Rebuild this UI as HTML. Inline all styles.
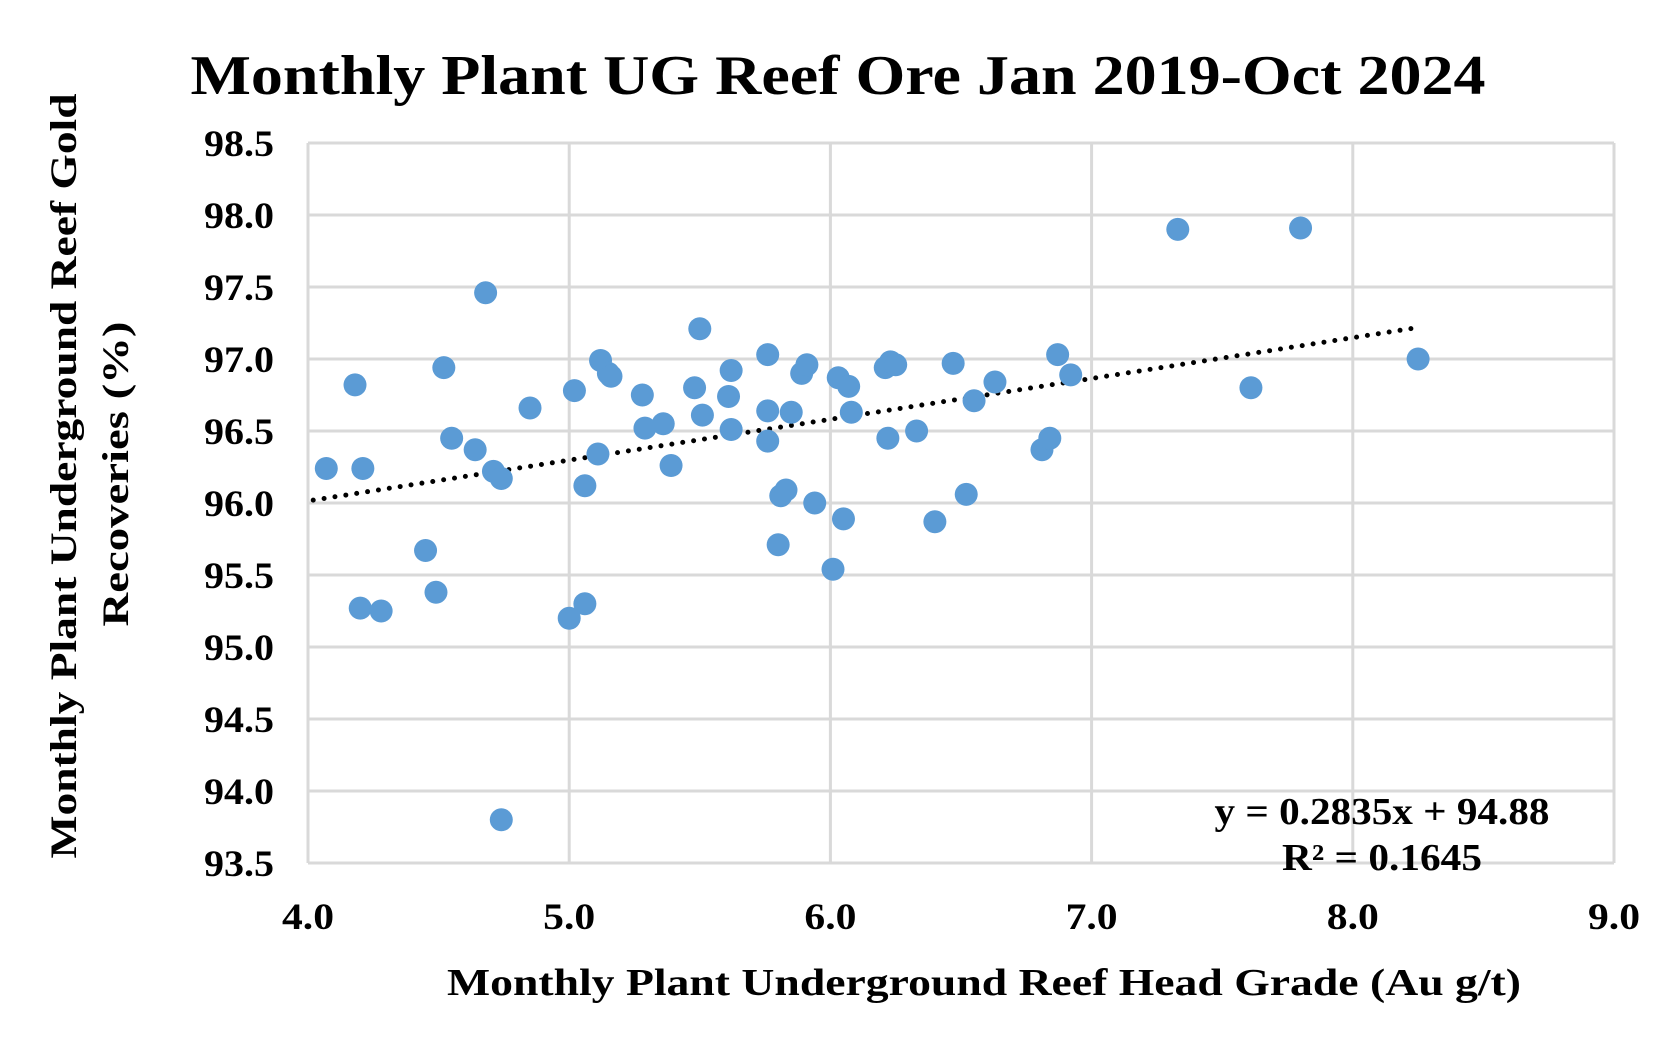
<!DOCTYPE html>
<html><head><meta charset="utf-8"><style>
html,body{margin:0;padding:0;background:#fff;}
svg{display:block;font-family:"Liberation Serif",serif;font-weight:bold;}
</style></head><body>
<svg id="chart" width="1678" height="1045" viewBox="0 0 1678 1045" xmlns="http://www.w3.org/2000/svg">
<text x="838" y="94" font-size="56" text-anchor="middle" textLength="1295" lengthAdjust="spacingAndGlyphs">Monthly Plant UG Reef Ore Jan 2019-Oct 2024</text>
<g id="grid"></g><g id="ticks"></g><g id="trend"></g><g id="pts"></g>
<text x="984" y="995" font-size="38" text-anchor="middle" textLength="1074" lengthAdjust="spacingAndGlyphs">Monthly Plant Underground Reef Head Grade (Au g/t)</text>
<text transform="translate(76,476) rotate(-90)" font-size="37" text-anchor="middle" textLength="765" lengthAdjust="spacingAndGlyphs">Monthly Plant Underground Reef Gold</text>
<text transform="translate(128,474) rotate(-90)" font-size="37" text-anchor="middle" textLength="305" lengthAdjust="spacingAndGlyphs">Recoveries (%)</text>
<text x="1382" y="824" font-size="38" text-anchor="middle" textLength="335" lengthAdjust="spacingAndGlyphs">y = 0.2835x + 94.88</text>
<text x="1382" y="870" font-size="38" text-anchor="middle" textLength="200" lengthAdjust="spacingAndGlyphs">R² = 0.1645</text>
</svg>
<script>
const xTicks=[4,5,6,7,8,9];
const yTicks=[93.5,94,94.5,95,95.5,96,96.5,97,97.5,98,98.5];
const gradeX=[4.07,4.18,4.20,4.21,4.28,4.45,4.49,4.52,4.55,4.64,4.68,4.71,4.74,4.74,4.85,5.00,5.02,5.06,5.06,5.11,5.12,5.15,5.16,5.28,5.29,5.36,5.39,5.48,5.50,5.51,5.62,5.61,5.62,5.76,5.76,5.76,5.85,5.81,5.83,5.80,5.89,5.91,5.94,6.01,6.03,6.05,6.07,6.08,6.21,6.23,6.25,6.22,6.33,6.40,6.47,6.52,6.55,6.63,6.81,6.84,6.87,6.92,7.33,7.80,7.61,8.25];
const recoveryY=[96.24,96.82,95.27,96.24,95.25,95.67,95.38,96.94,96.45,96.37,97.46,96.22,93.80,96.17,96.66,95.20,96.78,96.12,95.30,96.34,96.99,96.90,96.88,96.75,96.52,96.55,96.26,96.80,97.21,96.61,96.92,96.74,96.51,97.03,96.64,96.43,96.63,96.05,96.09,95.71,96.90,96.96,96.00,95.54,96.87,95.89,96.81,96.63,96.94,96.98,96.96,96.45,96.50,95.87,96.97,96.06,96.71,96.84,96.37,96.45,97.03,96.89,97.90,97.91,96.80,97.00];
const trendSlope=0.2835, trendIntercept=94.88, trendRange=[4.02,8.25];
const L=308,R=1614,T=143,B=863;
const sx=v=>L+(v-4)/5*(R-L), sy=v=>B-(v-93.5)/5*(B-T);
const NS="http://www.w3.org/2000/svg";
function mk(tag,parent,attrs){const e=document.createElementNS(NS,tag);for(const k in attrs)e.setAttribute(k,attrs[k]);parent.appendChild(e);return e;}
const grid=document.getElementById('grid'),ticks=document.getElementById('ticks');
yTicks.forEach(v=>{
 const l=mk('line',grid,{x1:L,x2:R,y1:sy(v),y2:sy(v),stroke:'#d9d9d9','stroke-width':3});
 
 
 const t=mk('text',ticks,{x:274,y:sy(v)+13,'font-size':37,'text-anchor':'end',textLength:70,lengthAdjust:'spacingAndGlyphs'});
 t.textContent=v.toFixed(1);
 
 
});
xTicks.forEach(v=>{
 const l=mk('line',grid,{x1:sx(v),x2:sx(v),y1:T,y2:B,stroke:'#d9d9d9','stroke-width':3});
 
 
 const t=mk('text',ticks,{x:sx(v),y:929,'font-size':37,'text-anchor':'middle',textLength:52,lengthAdjust:'spacingAndGlyphs'});
 t.textContent=v.toFixed(1);
 
 
});
const tl=mk('line',document.getElementById('trend'),{x1:sx(trendRange[0]),y1:sy(trendSlope*trendRange[0]+trendIntercept),x2:sx(trendRange[1]),y2:sy(trendSlope*trendRange[1]+trendIntercept),stroke:'#000','stroke-width':5,'stroke-dasharray':'0 11','stroke-linecap':'round'});


const pts=document.getElementById('pts');
gradeX.forEach((x,i)=>{
 const c=mk('circle',pts,{cx:sx(x),cy:sy(recoveryY[i]),r:11.5,fill:'#5b9bd5'});
 
 
});
</script>
</body></html>
